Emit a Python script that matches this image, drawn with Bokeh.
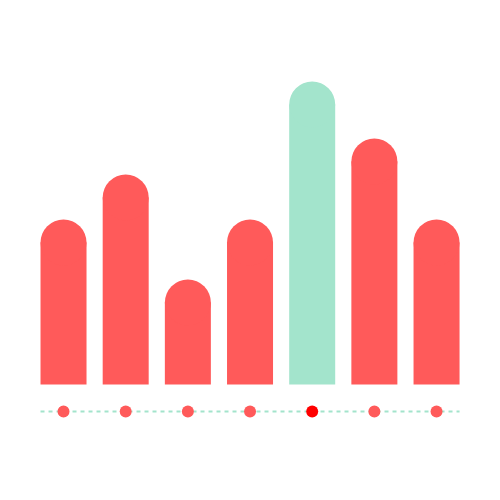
from bokeh.plotting import figure
from bokeh.models import Range1d, ColumnDataSource
from bokeh.embed import file_html
from bokeh.resources import INLINE

# data
categories = [0, 1, 2, 3, 4, 5, 6]
values = [55, 70, 35, 55, 101, 82, 55]
bar_colors = ["#FF5A5A", "#FF5A5A", "#FF5A5A", "#FF5A5A", "#A3E4CC", "#FF5A5A", "#FF5A5A"]
dot_colors = ["#FF5A5A", "#FF5A5A", "#FF5A5A", "#FF5A5A", "#FF0000", "#FF5A5A", "#FF5A5A"]

BAR_W = 0.74          # in x units
PX_PER_X = 62.17
PX_PER_Y = 3.0
CAP_R_PX = BAR_W / 2 * PX_PER_X

p = figure(width=484, height=484, output_backend="svg", toolbar_location=None,
           x_range=Range1d(-1.0137, 6.7714), y_range=Range1d(-33.33, 128),
           min_border=0, min_border_left=0, min_border_right=0,
           min_border_top=0, min_border_bottom=0)
p.axis.visible = False
p.grid.visible = False
p.outline_line_color = None
p.background_fill_color = "white"
p.border_fill_color = "white"

cap_off = CAP_R_PX / PX_PER_Y
src = ColumnDataSource(dict(
    x=categories,
    top=[v - cap_off for v in values],
    color=bar_colors,
    dot=dot_colors,
    dy=[-9] * len(categories),
))

p.vbar(x="x", top="top", bottom=0, width=BAR_W, fill_color="color", line_color=None, source=src)
p.circle(x="x", y="top", radius=BAR_W / 2, radius_dimension="x",
         fill_color="color", line_color=None, source=src)

p.line(x=[categories[0] - BAR_W / 2, categories[-1] + BAR_W / 2], y=[-9, -9],
       line_color="#A3E4CC", line_width=2, line_dash="4 4")
p.scatter(x="x", y="dy", size=12, fill_color="dot", line_color=None, source=src)

open("out.html", "w").write(file_html(p, INLINE))
